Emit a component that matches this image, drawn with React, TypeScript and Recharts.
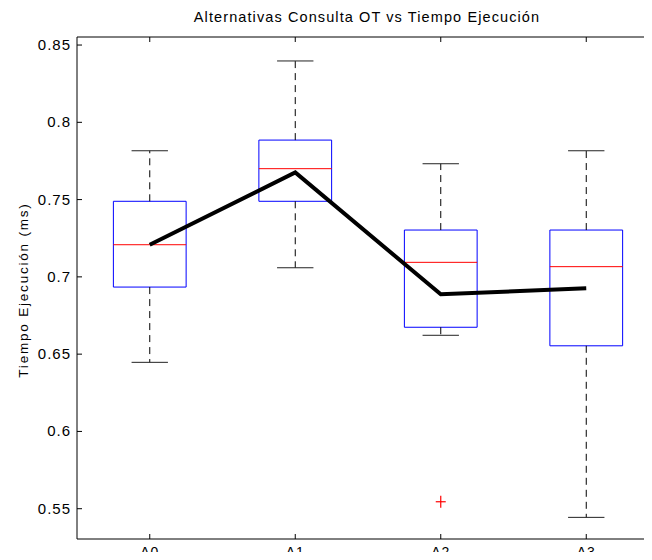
import React from "react";
import {
  ComposedChart,
  Line,
  Scatter,
  XAxis,
  YAxis,
  ReferenceArea,
  ReferenceLine,
} from "recharts";

// boxplot stats
const categories = ["A0", "A1", "A2", "A3"];
const q1 = [0.6934, 0.7489, 0.6674, 0.6554];
const medians = [0.7208, 0.77, 0.7094, 0.7066];
const q3 = [0.7489, 0.7885, 0.7303, 0.7303];
const whiskerLow = [0.6447, 0.7059, 0.6622, 0.5444];
const whiskerHigh = [0.7816, 0.8397, 0.7732, 0.7816];
const means = [0.7208, 0.7676, 0.6887, 0.6926];
const outlierGroup = [3];
const outlierValue = [0.5545];

const yTicks = [0.55, 0.6, 0.65, 0.7, 0.75, 0.8, 0.85];
const xTicks = [1, 2, 3, 4];

const FONT = "'Liberation Sans', Arial, sans-serif";

const rows = categories.map((c, i) => ({ x: i + 1, name: c, mean: means[i] }));
const outliers = outlierGroup.map((g, i) => ({ x: g, y: outlierValue[i] }));

const BottomTick = (props: any) => {
  const { x, y, payload } = props;
  return (
    <g>
      <line x1={x} y1={y} x2={x} y2={y - 5} stroke="#000" />
      <text x={x} y={y + 18} textAnchor="middle" fontFamily={FONT} fontSize={14} letterSpacing={1} fill="#000">
        {categories[payload.value - 1]}
      </text>
    </g>
  );
};

const TopTick = (props: any) => {
  const { x, y } = props;
  return <line x1={x} y1={y} x2={x} y2={y + 5} stroke="#000" />;
};

const LeftTick = (props: any) => {
  const { x, y, payload } = props;
  return (
    <g>
      <line x1={x} y1={y} x2={x + 5} y2={y} stroke="#000" />
      <text x={x - 6} y={y + 5} textAnchor="end" fontFamily={FONT} fontSize={15} letterSpacing={1} fill="#000">
        {String(payload.value)}
      </text>
    </g>
  );
};

const PlusMark = (props: any) => {
  const { cx, cy } = props;
  return (
    <g stroke="#ff0000" strokeWidth={1.2}>
      <line x1={cx - 5} y1={cy} x2={cx + 5} y2={cy} />
      <line x1={cx} y1={cy - 6} x2={cx} y2={cy + 6} />
    </g>
  );
};

export default function App() {
  return (
    <div style={{ margin: -8, width: 652, height: 560, overflow: "hidden", position: "relative", background: "#fff" }}>
      <ComposedChart
        width={660}
        height={580}
        data={rows}
        margin={{ top: 36, right: 1, bottom: 11, left: 0 }}
      >
        <XAxis
          dataKey="x"
          type="number"
          domain={[0.5, 4.5]}
          ticks={xTicks}
          allowDataOverflow
          height={30}
          tickSize={0}
          tickMargin={0}
          tickLine={false}
          axisLine={{ stroke: "#000" }}
          tick={<BottomTick />}
          interval={0}
        />
        <XAxis
          xAxisId="top"
          orientation="top"
          dataKey="x"
          type="number"
          domain={[0.5, 4.5]}
          ticks={xTicks}
          allowDataOverflow
          height={1}
          tickSize={0}
          tickMargin={0}
          tickLine={false}
          axisLine={{ stroke: "#000" }}
          tick={<TopTick />}
          interval={0}
        />
        <YAxis
          type="number"
          domain={[0.5304, 0.8552]}
          ticks={yTicks}
          allowDataOverflow
          width={77}
          tickSize={0}
          tickMargin={0}
          tickLine={false}
          axisLine={{ stroke: "#000" }}
          tick={<LeftTick />}
          interval={0}
        />

        {categories.map((c, i) => (
          <ReferenceLine
            key={`wh-${c}`}
            segment={[{ x: i + 1, y: q3[i] }, { x: i + 1, y: whiskerHigh[i] }]}
            stroke="#000"
            strokeDasharray="7 5"
          />
        ))}
        {categories.map((c, i) => (
          <ReferenceLine
            key={`wl-${c}`}
            segment={[{ x: i + 1, y: q1[i] }, { x: i + 1, y: whiskerLow[i] }]}
            stroke="#000"
            strokeDasharray="7 5"
          />
        ))}
        {categories.map((c, i) => (
          <ReferenceLine
            key={`ch-${c}`}
            segment={[{ x: i + 0.875, y: whiskerHigh[i] }, { x: i + 1.125, y: whiskerHigh[i] }]}
            stroke="#222"
          />
        ))}
        {categories.map((c, i) => (
          <ReferenceLine
            key={`cl-${c}`}
            segment={[{ x: i + 0.875, y: whiskerLow[i] }, { x: i + 1.125, y: whiskerLow[i] }]}
            stroke="#222"
          />
        ))}
        {categories.map((c, i) => (
          <ReferenceArea
            key={`box-${c}`}
            x1={i + 0.75}
            x2={i + 1.25}
            y1={q1[i]}
            y2={q3[i]}
            stroke="#0000ff"
            strokeWidth={1}
            fill="none"
            fillOpacity={0}
          />
        ))}
        {categories.map((c, i) => (
          <ReferenceLine
            key={`med-${c}`}
            segment={[{ x: i + 0.75, y: medians[i] }, { x: i + 1.25, y: medians[i] }]}
            stroke="#ff0000"
          />
        ))}

        <Scatter data={outliers} dataKey="y" shape={<PlusMark />} isAnimationActive={false} />
        <Line
          type="linear"
          dataKey="mean"
          stroke="#000"
          strokeWidth={4}
          dot={false}
          activeDot={false}
          isAnimationActive={false}
        />
      </ComposedChart>

      <svg width={652} height={560} style={{ position: "absolute", left: 0, top: 0, pointerEvents: "none" }}>
        <text x={367} y={22} textAnchor="middle" fontFamily={FONT} fontSize={14.5} letterSpacing={1.1} fill="#000">
          Alternativas Consulta OT vs Tiempo Ejecución
        </text>
        <text
          x={28}
          y={290}
          transform="rotate(-90, 28, 290)"
          textAnchor="middle"
          fontFamily={FONT}
          fontSize={13.5}
          letterSpacing={1.8}
          fill="#000"
        >
          Tiempo Ejecución (ms)
        </text>
      </svg>
    </div>
  );
}
